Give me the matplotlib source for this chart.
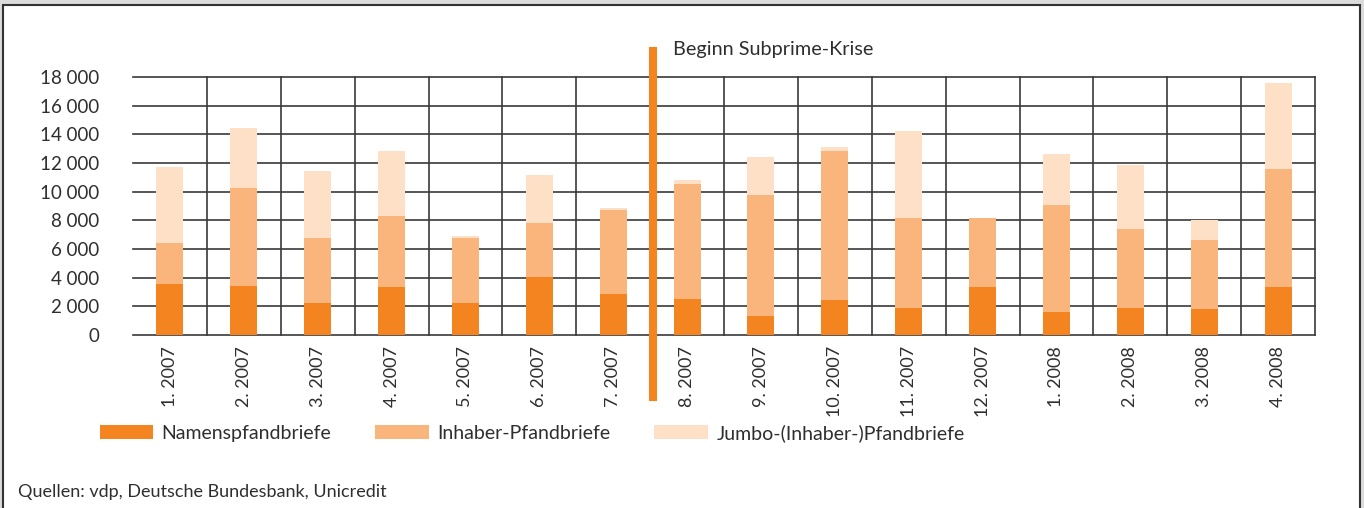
import matplotlib
matplotlib.use('Agg')
import matplotlib.pyplot as plt
from matplotlib.patches import Rectangle, Patch
from matplotlib.ticker import FuncFormatter
import numpy as np

months = ['1. 2007', '2. 2007', '3. 2007', '4. 2007', '5. 2007', '6. 2007', '7. 2007', '8. 2007',
          '9. 2007', '10. 2007', '11. 2007', '12. 2007', '1. 2008', '2. 2008', '3. 2008', '4. 2008']
namens = [3550, 3420, 2250, 3370, 2210, 4070, 2840, 2510, 1350, 2440, 1860, 3370, 1630, 1910, 1840, 3370]
inhaber = [2900, 6860, 4540, 4930, 4540, 3720, 5880, 8000, 8420, 10400, 6280, 4820, 7440, 5490, 4790, 8210]
jumbo = [5300, 4190, 4650, 4540, 160, 3380, 170, 300, 2670, 300, 6120, 0, 3560, 4440, 1400, 5980]
series_names = ['Namenspfandbriefe', 'Inhaber-Pfandbriefe', 'Jumbo-(Inhaber-)Pfandbriefe']
y_ticks = [0, 2000, 4000, 6000, 8000, 10000, 12000, 14000, 16000, 18000]
crisis_pos = 6.54  # between 7. 2007 and 8. 2007

colors = ['#F48420', '#F9B57C', '#FDE0C6']
plt.rcParams['font.family'] = ['Lato', 'DejaVu Sans']
txt = '#2e2e2e'
W, H = 1364, 508

fig = plt.figure(figsize=(W / 100, H / 100), dpi=100, facecolor='#dcdcdc')
frame = Rectangle((3 / W, -0.05), 1357 / W, 1.05 - 5 / H, transform=fig.transFigure,
                  facecolor='white', edgecolor='#333333', lw=1.5, zorder=-10)
fig.patches.append(frame)

ax = fig.add_axes([133 / W, 1 - 335 / H, 1182 / W, 258 / H])
ax.set_facecolor('none')
x = np.arange(len(months))
w = 0.365

ax.bar(x, namens, w, color=colors[0], zorder=3)
ax.bar(x, inhaber, w, bottom=namens, color=colors[1], zorder=3)
ax.bar(x, jumbo, w, bottom=np.array(namens) + np.array(inhaber), color=colors[2], zorder=3)

ax.set_xlim(-0.5, len(months) - 0.5)
ax.set_ylim(0, 18000)
for yv in y_ticks:
    ax.axhline(yv, color='#3a3a3a', lw=1.2, zorder=1, clip_on=False)
for i in range(len(months)):
    if i + 0.5 != crisis_pos:
        ax.axvline(i + 0.5, color='#3a3a3a', lw=1.2, zorder=1, clip_on=False)

for s in ax.spines.values():
    s.set_visible(False)

ax.set_yticks(y_ticks)
ax.yaxis.set_major_formatter(FuncFormatter(lambda v, p: f'{int(v):,}'.replace(',', ' ')))
ax.set_xticks(x)
ax.set_xticklabels(months, rotation=90, va='top', ha='center')
ax.tick_params(axis='y', length=0, pad=24, labelsize=13.5, labelcolor=txt)
ax.tick_params(axis='x', length=0, pad=8, labelsize=13, labelcolor=txt)

ax.axvline(crisis_pos, ymin=-0.24, ymax=1.1, color='#F48420', lw=5.8, clip_on=False, zorder=4)
fig.text(673 / W, 1 - 50 / H, 'Beginn Subprime-Krise', fontsize=14.3, color=txt, va='center', ha='left')

handles = [Patch(facecolor=c, edgecolor='none') for c in colors]
fig.legend(handles, series_names, loc='center left', bbox_to_anchor=(82 / W, 1 - 433 / H), ncol=3,
           frameon=False, fontsize=14, handlelength=2.75, handleheight=0.72, handletextpad=0.45,
           columnspacing=2.25, labelcolor=txt)

fig.text(18 / W, 1 - 492 / H, 'Quellen: vdp, Deutsche Bundesbank, Unicredit', fontsize=13,
         color=txt, va='center', ha='left')

fig.savefig('out.png', dpi=100, facecolor=fig.get_facecolor())
